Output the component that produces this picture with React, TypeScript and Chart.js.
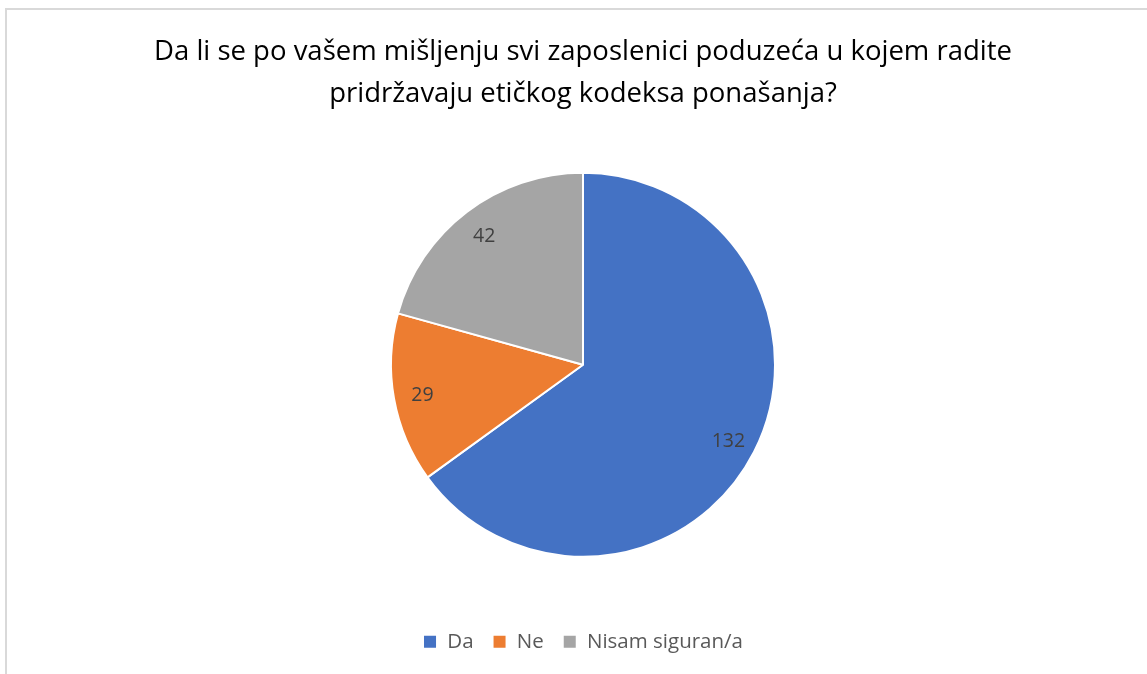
import React, { useEffect, useRef } from "react";
import { Chart, registerables } from "chart.js";

Chart.register(...registerables);

const titleLines = [
  "Da li se po vašem mišljenju svi zaposlenici poduzeća u kojem radite",
  "pridržavaju etičkog kodeksa ponašanja?",
];
const categories = ["Da", "Ne", "Nisam siguran/a"];
const values = [132, 29, 42];
const colors = ["#4472C4", "#ED7D31", "#A5A5A5"];

const FONT = "'Open Sans', 'Noto Sans', sans-serif";

const dataLabelPlugin = {
  id: "dataLabels",
  afterDatasetsDraw(chart: any) {
    const ctx = chart.ctx;
    const meta = chart.getDatasetMeta(0);
    ctx.save();
    ctx.font = `19.5px ${FONT}`;
    ctx.fillStyle = "#404040";
    ctx.textAlign = "center";
    ctx.textBaseline = "middle";
    meta.data.forEach((arc: any, i: number) => {
      const p = arc.getProps(["x", "y", "startAngle", "endAngle", "outerRadius"], true);
      const mid = (p.startAngle + p.endAngle) / 2;
      const r = p.outerRadius * 0.85;
      ctx.fillText(String(values[i]), p.x + Math.cos(mid) * r, p.y + Math.sin(mid) * r + 2);
    });
    ctx.restore();
  },
};

export default function App() {
  const ref = useRef<HTMLCanvasElement | null>(null);
  useEffect(() => {
    if (!ref.current) return;
    const chart = new Chart(ref.current, {
      type: "pie",
      data: {
        labels: categories,
        datasets: [
          {
            data: values,
            backgroundColor: colors,
            borderColor: "#FFFFFF",
            borderWidth: 2,
            radius: 192,
          },
        ],
      },
      options: {
        responsive: false,
        animation: false,
        layout: { padding: { left: 19, right: 0, top: 0, bottom: 12 } },
        plugins: {
          title: {
            display: true,
            text: titleLines,
            color: "#000000",
            font: { family: FONT, size: 27.5, weight: "normal", lineHeight: 1.527 },
            padding: { top: 31, bottom: 2 },
          },
          legend: {
            position: "bottom",
            labels: {
              boxWidth: 14,
              boxHeight: 14,
              padding: 19,
              color: "#595959",
              font: { family: FONT, size: 20.5 },
            },
          },
          tooltip: { enabled: false },
        },
      },
      plugins: [dataLabelPlugin],
    });
    return () => chart.destroy();
  }, []);

  return (
    <div style={{ position: "absolute", left: 0, top: 0, width: 1147, height: 674, background: "#fff", overflow: "hidden" }}>
      <div
        style={{
          position: "absolute",
          left: 5,
          top: 8,
          width: 1200,
          height: 700,
          borderLeft: "2px solid #D9D9D9",
          borderTop: "2px solid #D9D9D9",
        }}
      />
      <canvas ref={ref} width={1147} height={674} style={{ position: "absolute", left: 0, top: 0, width: 1147, height: 674 }} />
    </div>
  );
}
